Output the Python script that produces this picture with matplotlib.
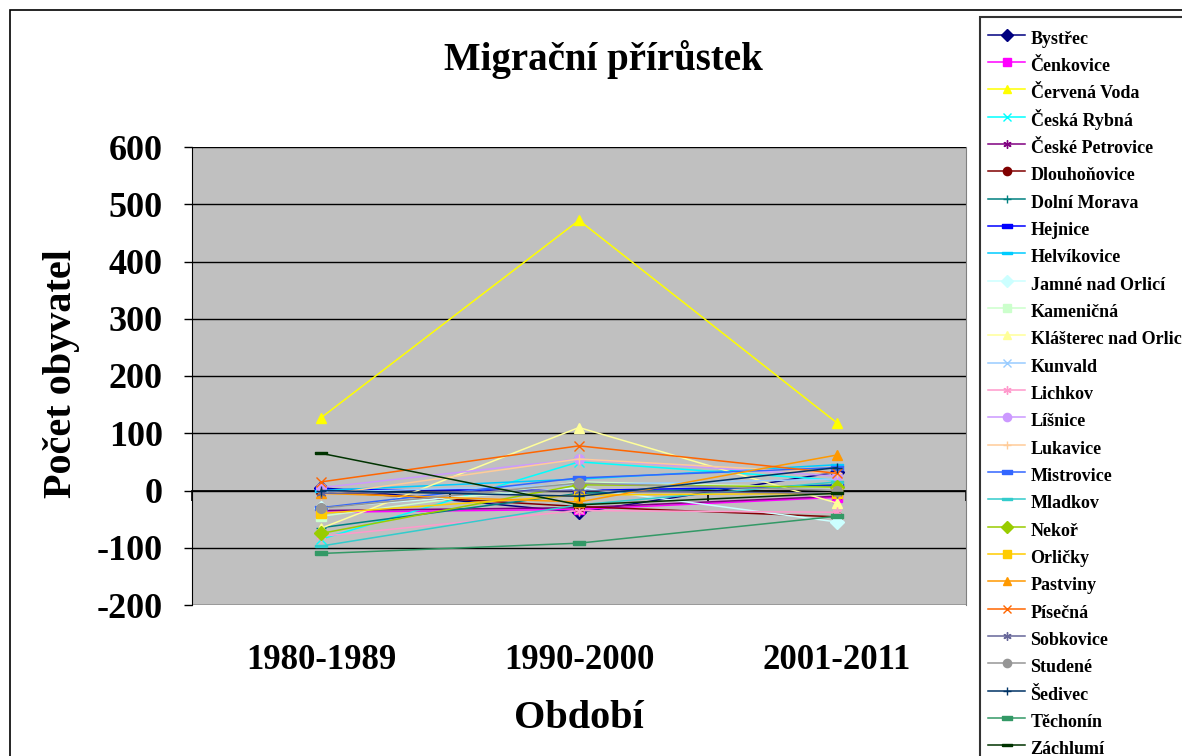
import matplotlib
matplotlib.use("Agg")
import matplotlib.pyplot as plt
from matplotlib.patches import Rectangle

plt.rcParams["axes.unicode_minus"] = False

categories = ["1980-1989", "1990-2000", "2001-2011"]

names = ["Bystřec", "Čenkovice", "Červená Voda", "Česká Rybná", "České Petrovice",
         "Dlouhoňovice", "Dolní Morava", "Hejnice", "Helvíkovice", "Jamné nad Orlicí",
         "Kameničná", "Klášterec nad Orlicí", "Kunvald", "Lichkov", "Líšnice",
         "Lukavice", "Mistrovice", "Mladkov", "Nekoř", "Orličky", "Pastviny",
         "Písečná", "Sobkovice", "Studené", "Šedivec", "Těchonín", "Záchlumí"]

bystrec = [5, -38, 32]
cenkovice = [-38, -33, -12]
cervena_voda = [127, 472, 118]
ceska_rybna = [-85, 50, 18]
ceske_petrovice = [-35, -30, -10]
dlouhonovice = [-2, -28, -46]
dolni_morava = [-65, -5, 10]
hejnice = [2, 0, 8]
helvikovice = [0, 20, 45]
jamne = [-30, 5, -55]
kamenicna = [-45, 15, 5]
klasterec = [-66, 110, -22]
kunvald = [-3, 10, 20]
lichkov = [-80, -35, -38]
lisnice = [5, 55, 25]
lukavice = [-8, 55, 30]
mistrovice = [-30, 22, 40]
mladkov = [-97, -25, 15]
nekor = [-75, 10, 6]
orlicky = [-40, -8, -5]
pastviny = [-5, -20, 62]
pisecna = [15, 78, 30]
sobkovice = [-5, 0, -5]
studene = [-31, 13, 0]
sedivec = [0, -10, 40]
techonin = [-110, -92, -45]
zachlumi = [65, -25, -5]

series_values = [bystrec, cenkovice, cervena_voda, ceska_rybna, ceske_petrovice,
                 dlouhonovice, dolni_morava, hejnice, helvikovice, jamne, kamenicna,
                 klasterec, kunvald, lichkov, lisnice, lukavice, mistrovice, mladkov,
                 nekor, orlicky, pastviny, pisecna, sobkovice, studene, sedivec,
                 techonin, zachlumi]

colors = ["#000080", "#FF00FF", "#FFFF00", "#00FFFF", "#800080", "#800000", "#008080",
          "#0000FF", "#00CCFF", "#CCFFFF", "#CCFFCC", "#FFFF99", "#99CCFF", "#FF99CC",
          "#CC99FF", "#FFCC99", "#3366FF", "#33CCCC", "#99CC00", "#FFCC00", "#FF9900",
          "#FF6600", "#666699", "#969696", "#003366", "#339966", "#003300"]

short_dash = [(-0.6, -0.25), (0.6, -0.25), (0.6, 0.25), (-0.6, 0.25), (-0.6, -0.25)]
long_dash = [(-1, -0.25), (1, -0.25), (1, 0.25), (-1, 0.25), (-1, -0.25)]
marker_cycle = ["D", "s", "^", "x", (6, 2, 0), "o", "+", short_dash, long_dash]
markers = [marker_cycle[i % 9] for i in range(27)]

W, H = 1182, 756
fig = plt.figure(figsize=(W / 100, H / 100), dpi=100)
fig.patch.set_facecolor("white")
serif = ["Liberation Serif", "DejaVu Serif"]

ax = fig.add_axes([192 / W, 1 - 605 / H, (966 - 192) / W, (605 - 147) / H])
ax.set_facecolor("#C0C0C0")
ax.set_xlim(-0.5, 2.5)
ax.set_ylim(-200, 600)
ax.set_yticks(range(-200, 601, 100))
ax.yaxis.grid(True, color="black", linewidth=1)
ax.set_axisbelow(True)
ax.set_xticks([])
for s in ["top", "bottom"]:
    ax.spines[s].set_visible(False)
ax.spines["left"].set_color("black")
ax.spines["right"].set_color("#808080")
ax.tick_params(axis="y", direction="out", length=6, width=1, pad=15)
for lab in ax.get_yticklabels():
    lab.set_fontfamily(serif)
    lab.set_fontweight("bold")
    lab.set_fontsize(26)

xpos = list(range(len(categories)))
handles = []
for i, (name, vals) in enumerate(zip(names, series_values)):
    m = markers[i]
    ms = 8 if isinstance(m, list) else 7
    ln, = ax.plot(xpos, vals, color=colors[i], linewidth=1.1, marker=m, markersize=ms,
                  markerfacecolor=colors[i], markeredgecolor=colors[i], markeredgewidth=1,
                  label=name, zorder=3 + i * 0.01, clip_on=False)
    handles.append(ln)

# zero axis with category tick marks
zero_ax = ax.secondary_xaxis(0.25)
zero_ax.set_xticks([-0.5, 0.5, 1.5, 2.5])
zero_ax.set_xticklabels([])
zero_ax.tick_params(direction="out", length=7, width=1.2, color="black")
zero_ax.spines["bottom"].set_linewidth(1.3)
zero_ax.spines["bottom"].set_color("black")

# category labels at bottom
cat_ax = ax.secondary_xaxis("bottom")
cat_ax.set_xticks(xpos)
cat_ax.set_xticklabels(categories, fontfamily=serif, fontweight="bold", fontsize=25)
cat_ax.tick_params(length=0, pad=28)
cat_ax.spines["bottom"].set_visible(False)

fig.text(603 / W, 1 - 60 / H, "Migrační přírůstek", ha="center", va="center",
         fontfamily=serif, fontweight="bold", fontsize=28)
fig.text(62 / W, 1 - 373 / H, "Počet obyvatel", ha="center", va="center", rotation=90,
         fontfamily=serif, fontweight="bold", fontsize=29)
fig.text(579 / W, 1 - 718 / H, "Období", ha="center", va="center",
         fontfamily=serif, fontweight="bold", fontsize=29)

leg = fig.legend(handles=handles, loc="upper left",
                 bbox_to_anchor=(980 / W, 1 - 17 / H), frameon=True, fancybox=False,
                 edgecolor="black", facecolor="white", numpoints=1, markerscale=0.85,
                 prop={"family": serif, "weight": "bold", "size": 13},
                 handlelength=2.0, handleheight=1.70, handletextpad=0.33,
                 labelspacing=0.164, borderpad=0.47, borderaxespad=0)
leg.get_frame().set_linewidth(1.5)

fig.add_artist(Rectangle((10 / W, -0.1), 1.2, (H - 10) / H + 0.1, transform=fig.transFigure,
                         fill=False, edgecolor="black", linewidth=1.2, zorder=0))

fig.savefig("out.png", dpi=100)
